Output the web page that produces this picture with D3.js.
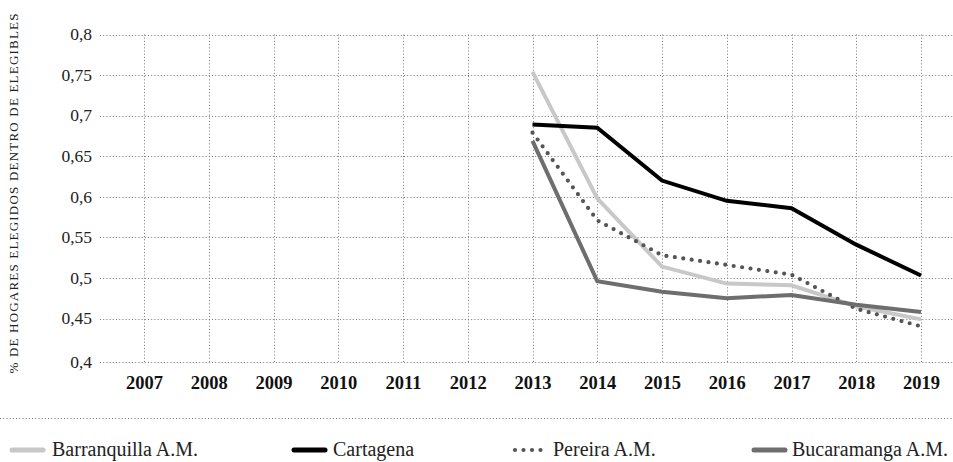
<!DOCTYPE html>
<html><head><meta charset="utf-8">
<script src="https://cdn.jsdelivr.net/npm/d3@7"></script>
<style>
body{margin:0;background:#fff;}
svg{display:block;}
svg text{font-family:"Liberation Serif","DejaVu Serif","Times New Roman",Times,serif !important;}
</style></head><body>
<svg id="c" width="953" height="462"></svg>
<script>
const years = [2007,2008,2009,2010,2011,2012,2013,2014,2015,2016,2017,2018,2019];
const dataYears = [2013,2014,2015,2016,2017,2018,2019];
const yTicks = [0.4,0.45,0.5,0.55,0.6,0.65,0.7,0.75,0.8];
const barranquilla = [0.754,0.598,0.514,0.493,0.491,0.465,0.449];
const cartagena    = [0.689,0.685,0.620,0.595,0.586,0.541,0.503];
const pereira      = [0.679,0.571,0.528,0.516,0.504,0.462,0.441];
const bucaramanga  = [0.669,0.496,0.483,0.475,0.479,0.467,0.458];
const seriesNames = ["Barranquilla A.M.","Cartagena","Pereira A.M.","Bucaramanga A.M."];
const yTitle = "% de hogares elegidos dentro de elegibles";

const svg = d3.select("#c");
const x = d3.scalePoint().domain(years).range([144,921]);
const y = d3.scaleLinear().domain([0.4,0.45,0.8]).range([362,318.5,34.5]);
const fmt = v => String(v).replace(".",",");

// grid
const grid = svg.append("g").attr("stroke","#777").attr("stroke-width",1).attr("stroke-dasharray","1,2.2");
grid.selectAll("line.h").data(yTicks).join("line")
  .attr("x1",100).attr("x2",953).attr("y1",d=>Math.round(y(d))+0.5).attr("y2",d=>Math.round(y(d))+0.5);
grid.selectAll("line.v").data(years).join("line")
  .attr("x1",d=>Math.round(x(d))+0.5).attr("x2",d=>Math.round(x(d))+0.5).attr("y1",y(0.8)).attr("y2",y(0.4));
svg.append("line").attr("x1",0).attr("x2",953).attr("y1",418.5).attr("y2",418.5)
  .attr("stroke","#777").attr("stroke-dasharray","1,2.2");

const yAxis = d3.axisLeft(y).tickValues(yTicks).tickSize(0).tickPadding(0).tickFormat(fmt);
const ya = svg.append("g").attr("transform","translate(92,0)").call(yAxis);
ya.select(".domain").remove();
ya.selectAll("text").attr("font-size",17.5).attr("fill","#222").attr("dy","0.3em");

const xAxis = d3.axisBottom(x).tickSize(0).tickPadding(0);
const xa = svg.append("g").attr("transform","translate(0,376)").call(xAxis);
xa.select(".domain").remove();
xa.selectAll("text").attr("font-size",18.5).attr("font-weight","bold").attr("fill","#111").attr("dy","0.71em");

svg.append("text").attr("transform","translate(18,193) rotate(-90)").attr("text-anchor","middle")
  .attr("font-size",13).attr("letter-spacing","1.2px").attr("fill","#222")
  .text(yTitle.toUpperCase());

const styles = [
  {data:barranquilla,color:"#c8c8c8",w:4,dash:null},
  {data:cartagena,color:"#000",w:4,dash:null},
  {data:pereira,color:"#555",w:4.2,dash:"0,8.5"},
  {data:bucaramanga,color:"#6e6e6e",w:4,dash:null}
];
const line = d3.line().x((d,i)=>x(dataYears[i])).y(d=>y(d));
styles.forEach(s=>{
  svg.append("path").attr("d",line(s.data)).attr("fill","none").attr("stroke",s.color)
    .attr("stroke-width",s.w).attr("stroke-linejoin","miter")
    .attr("stroke-linecap",s.dash?"round":"butt").attr("stroke-dasharray",s.dash);
});

const legX = [[12,43,52],[294,325,333],[515,548,553],[754,785,792]];
styles.forEach((s,i)=>{
  const [a,b,t]=legX[i];
  svg.append("line").attr("x1",a).attr("x2",b).attr("y1",450).attr("y2",450)
    .attr("stroke",s.color).attr("stroke-width",s.dash?4.2:5)
    .attr("stroke-linecap","round").attr("stroke-dasharray",s.dash?"0,8.5":null);
  svg.append("text").attr("x",t).attr("y",456).attr("font-size",20).attr("fill","#222").text(seriesNames[i]);
});
</script>
</body></html>
